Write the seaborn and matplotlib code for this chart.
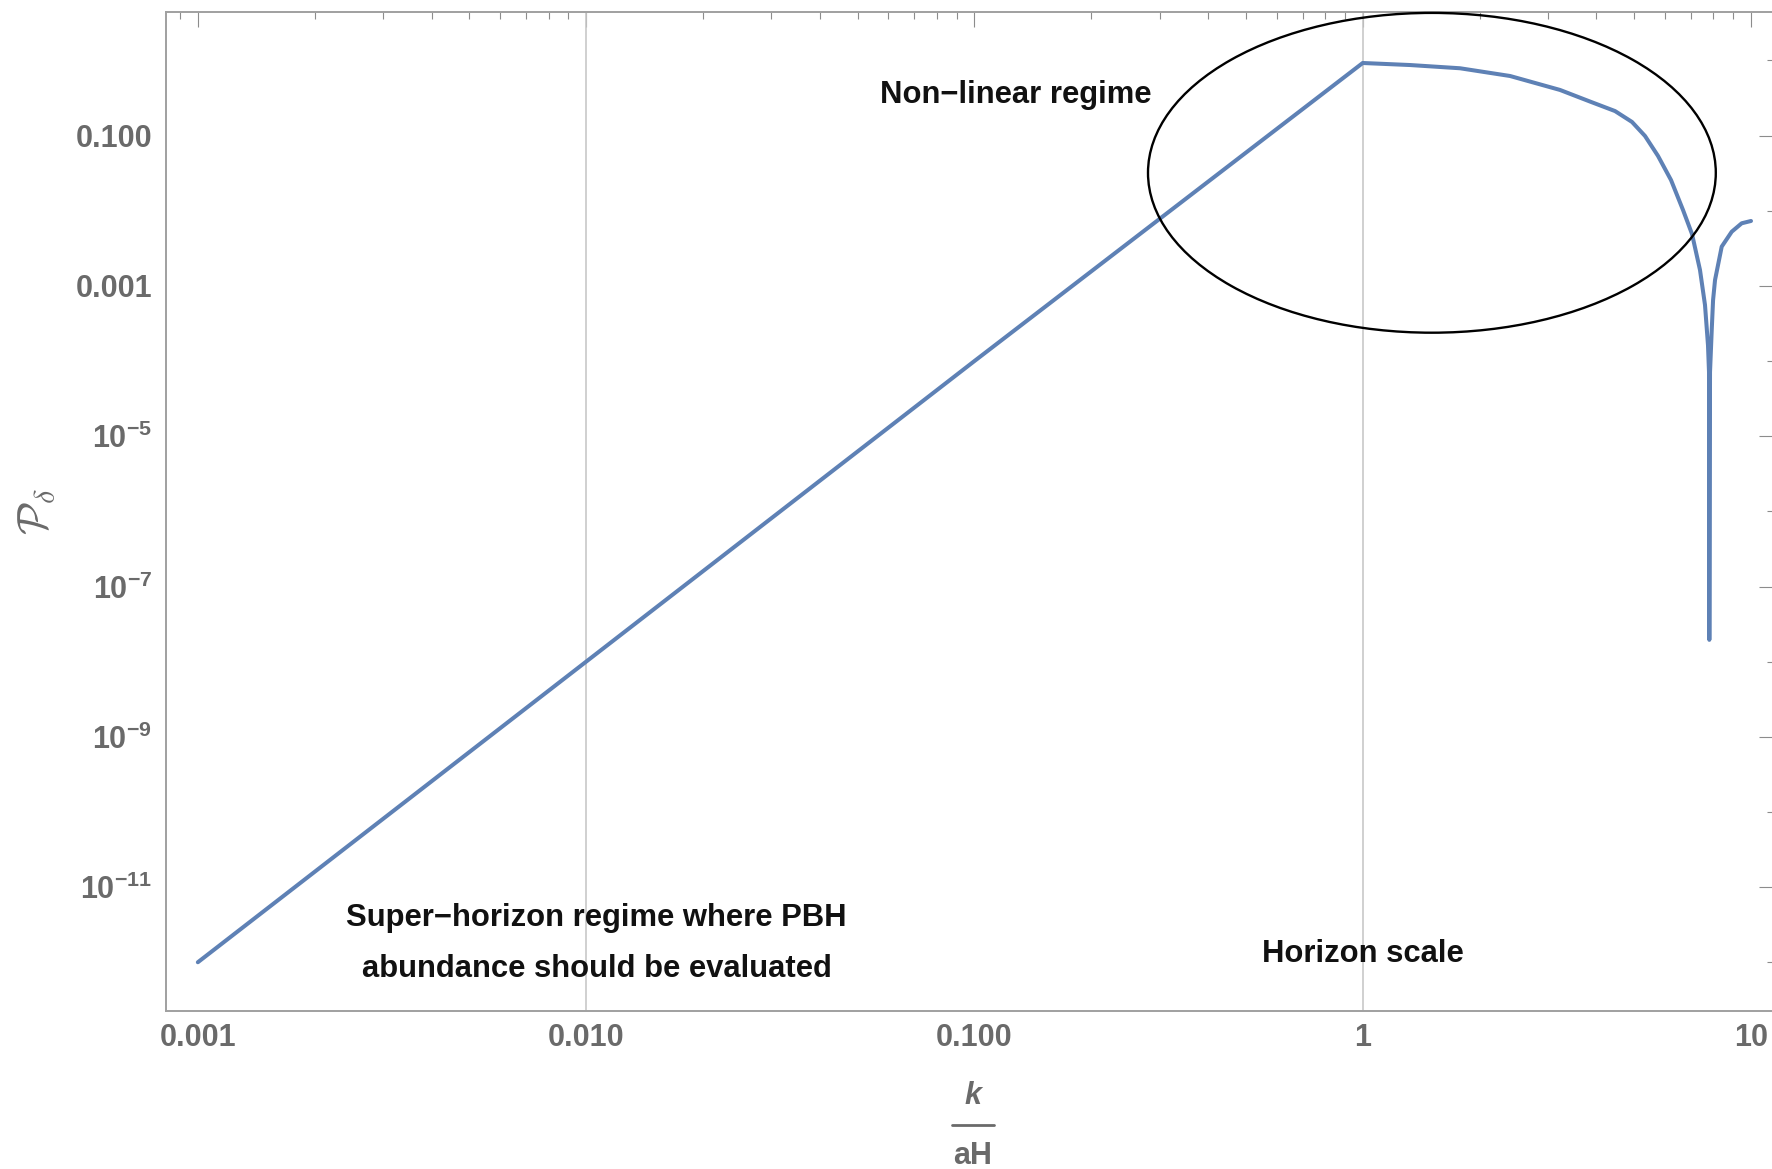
import numpy as np
import pandas as pd
import seaborn as sns
import matplotlib
matplotlib.use("Agg")
import matplotlib.pyplot as plt
from matplotlib.patches import Ellipse
from matplotlib.lines import Line2D
from matplotlib.ticker import FixedLocator, LogLocator, NullFormatter

# ---------------- data ----------------
k_over_aH = [0.001, 0.01, 0.1, 1.0, 1.324, 1.781, 2.396, 3.222, 3.848, 4.465,
             4.937, 5.333, 5.761, 6.223, 6.683, 7.047, 7.389, 7.612, 7.748,
             7.795, 7.810, 7.842, 7.922, 7.985, 8.079, 8.405, 8.919, 9.462, 10.0]
P_delta = [1.0e-12, 1.0e-8, 1.0e-4, 0.925, 0.869, 0.787, 0.621, 0.405, 0.284,
           0.212, 0.152, 0.0989, 0.0536, 0.0256, 0.0102, 0.00491, 0.00163,
           5.57e-4, 1.63e-4, 7.13e-5, 1.95e-8, 7.13e-5, 2.59e-4, 6.47e-4,
           1.20e-3, 3.33e-3, 5.26e-3, 6.81e-3, 7.31e-3]

x_tick_values = [0.001, 0.01, 0.1, 1, 10]
x_tick_labels = ["0.001", "0.010", "0.100", "1", "10"]
y_tick_exponents = [-1, -3, -5, -7, -9, -11]
y_tick_labels = ["0.100", "0.001", r"$\mathbf{10^{-5}}$", r"$\mathbf{10^{-7}}$",
                 r"$\mathbf{10^{-9}}$", r"$\mathbf{10^{-11}}$"]
y_minor_exponents = [0, -2, -4, -6, -8, -10, -12]
grid_x = [0.01, 1]

label_nonlinear = "Non\u2212linear regime"
label_super_1 = "Super\u2212horizon regime where PBH"
label_super_2 = "abundance should be evaluated"
label_horizon = "Horizon scale"

# ---------------- styling ----------------
sns.set_style("white")
plt.rcParams["font.family"] = ["Liberation Sans", "DejaVu Sans"]
plt.rcParams["mathtext.fontset"] = "custom"
plt.rcParams["mathtext.rm"] = "Liberation Sans"
plt.rcParams["mathtext.bf"] = "Liberation Sans:bold"
plt.rcParams["mathtext.it"] = "Liberation Sans:italic"

W, H = 1772, 1169
fig = plt.figure(figsize=(W / 100, H / 100), dpi=100)
ax_left, ax_right, ax_top, ax_bottom = 166, 1774, 12, 1010.5
ax = fig.add_axes([ax_left / W, (H - ax_bottom) / H,
                   (ax_right - ax_left) / W, (ax_bottom - ax_top) / H])

df = pd.DataFrame({"k": k_over_aH, "P": P_delta})
sns.lineplot(data=df, x="k", y="P", ax=ax, sort=False, estimator=None,
             color="#5E81B5", linewidth=2.9, zorder=3)
ax.set_xlabel("")

ax.set_xscale("log")
ax.set_yscale("log")
ax.set_xlim(10 ** -3.082, 10 ** 1.0592)
ax.set_ylim(10 ** -12.642, 10 ** 0.6447)

for gx in grid_x:
    ax.axvline(gx, color="#c8c8c8", linewidth=1.2, zorder=1)

# ticks
ax.xaxis.set_major_locator(FixedLocator(x_tick_values))
ax.set_xticklabels(x_tick_labels)
ax.xaxis.set_minor_locator(LogLocator(base=10, subs=np.arange(2, 10), numticks=100))
ax.xaxis.set_minor_formatter(NullFormatter())
ax.yaxis.set_major_locator(FixedLocator([10.0 ** e for e in y_tick_exponents]))
ax.set_yticklabels(y_tick_labels)
ax.yaxis.set_minor_locator(FixedLocator([10.0 ** e for e in y_minor_exponents]))
ax.yaxis.set_minor_formatter(NullFormatter())

tick_col = "#8c8c8c"
lab_col = "#6a6a6a"
ax.tick_params(which="both", direction="in", top=True, right=True,
               color=tick_col, width=0.8)
ax.tick_params(which="major", length=10.8)
ax.tick_params(which="minor", length=4.7)
ax.tick_params(axis="x", which="major", pad=9, labelsize=22, labelcolor=lab_col)
ax.tick_params(axis="y", which="major", pad=10, labelsize=22, labelcolor=lab_col)
for lab in ax.get_xticklabels() + ax.get_yticklabels():
    lab.set_fontweight("bold")

for sp in ax.spines.values():
    sp.set_color("#a0a0a0")
    sp.set_linewidth(1.4)

# axis labels
ax.set_ylabel(r"$\mathcal{P}_{\delta}$", fontsize=31, color=lab_col,
              math_fontfamily="cm", va="center", ha="center")
ax.yaxis.set_label_coords((37 - ax_left) / (ax_right - ax_left),
                          (ax_bottom - 511) / (ax_bottom - ax_top))

fig.text(973 / W, 1 - 1096 / H, "k", ha="center", va="center", fontsize=22,
         fontstyle="italic", fontweight="bold", color=lab_col)
fig.add_artist(Line2D([952 / W, 994 / W], [1 - 1124.5 / H, 1 - 1124.5 / H],
                      transform=fig.transFigure, color=lab_col, linewidth=2.0))
fig.text(973 / W, 1 - 1156 / H, "aH", ha="center", va="center", fontsize=22,
         fontweight="bold", color=lab_col)

# annotation ellipse
def fx(px):
    return (px - ax_left) / (ax_right - ax_left)

def fy(py):
    return (ax_bottom - py) / (ax_bottom - ax_top)

ell = Ellipse((fx(1431.9), fy(172.8)), width=567.8 / (ax_right - ax_left),
              height=319.8 / (ax_bottom - ax_top), transform=ax.transAxes,
              fill=False, edgecolor="black", linewidth=1.7, zorder=4, clip_on=False)
ax.add_patch(ell)

txt_kw = dict(transform=ax.transAxes, ha="center", va="center", fontsize=22.3,
              fontweight="bold", color="#111111", zorder=5)
ax.text(fx(1015.7), fy(95), label_nonlinear, **txt_kw)
ax.text(fx(596.6), fy(918), label_super_1, **txt_kw)
ax.text(fx(596.6), fy(969), label_super_2, **txt_kw)
ax.text(fx(1363), fy(954), label_horizon, **txt_kw)

fig.savefig("out.png", dpi=100)
